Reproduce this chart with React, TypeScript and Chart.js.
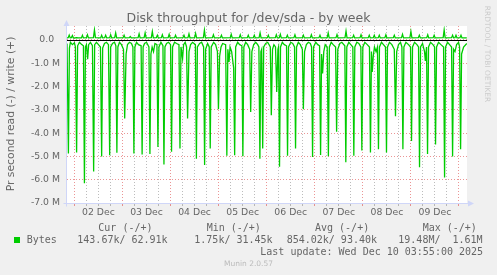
import React, { useEffect, useRef } from 'react';
import { Chart, registerables } from 'chart.js';

Chart.register(...registerables);

// x values: hours since 02 Dec 00:00; y values: millions of bytes per second
const dayLabels = ['02 Dec', '03 Dec', '04 Dec', '05 Dec', '06 Dec', '07 Dec', '08 Dec', '09 Dec'];
const yTickLabels = ['-7.0 M', '-6.0 M', '-5.0 M', '-4.0 M', '-3.0 M', '-2.0 M', '-1.0 M', '0.0  '];

const readPoints: [number, number][] = [
  [-3.7, -0.15], [-3.0, -4.87], [-2.5, -0.35], [-2.0, -0.1], [-1.0, -0.2], [0.0, -0.12], [0.5, -0.3],
  [1.1, -4.83], [1.6, -0.25], [2.5, -0.1], [3.5, -0.18], [4.5, -0.25], [5.0, -6.15], [5.5, -0.3],
  [6.0, -0.2], [6.6, -0.83], [7.1, -0.2], [8.0, -0.1], [9.0, -0.25], [9.6, -5.65], [10.1, -0.2],
  [11.0, -0.1], [12.0, -0.2], [13.0, -0.3], [13.6, -5.0], [14.1, -0.35], [15.0, -0.15], [16.0, -0.1],
  [17.0, -0.2], [17.6, -4.95], [18.1, -0.3], [19.0, -0.15], [20.0, -0.1], [20.7, -0.25], [21.2, -4.84],
  [21.7, -0.3], [22.5, -0.1], [23.5, -0.2], [24.5, -0.4], [25.1, -3.37], [25.8, -0.6], [26.5, -0.2],
  [27.5, -0.1], [28.5, -0.15], [29.2, -0.3], [29.7, -4.87], [30.2, -0.3], [31.0, -0.1], [32.0, -0.2],
  [33.3, -0.25], [33.8, -4.92], [34.3, -0.3], [35.0, -0.15], [36.0, -0.1], [37.2, -0.3], [37.7, -4.9],
  [38.2, -0.6], [38.8, -0.3], [39.5, -0.5], [40.2, -0.15], [41.2, -0.2], [41.7, -4.6], [42.2, -0.3],
  [43.2, -0.1], [44.2, -0.25], [44.7, -5.35], [45.2, -0.3], [46.0, -0.15], [47.0, -0.1], [48.0, -0.2],
  [48.5, -4.8], [49.0, -0.3], [50.0, -0.1], [51.0, -0.15], [52.2, -0.2], [52.7, -4.66], [53.2, -0.3],
  [54.0, -0.8], [54.5, -0.2], [55.3, -0.1], [56.0, -0.3], [56.5, -3.37], [57.2, -0.5], [58.0, -0.2],
  [59.0, -0.1], [60.4, -0.2], [60.9, -5.1], [61.4, -0.3], [62.5, -0.15], [63.5, -0.1], [64.5, -0.3],
  [65.0, -5.37], [65.5, -0.4], [66.5, -0.15], [67.3, -0.3], [67.8, -4.66], [68.3, -0.3], [69.5, -0.1],
  [70.5, -0.2], [71.4, -0.5], [71.9, -2.97], [72.5, -0.7], [73.2, -0.3], [74.0, -0.15], [75.5, -0.2],
  [76.1, -4.97], [76.6, -0.4], [77.2, -0.94], [77.7, -0.3], [78.5, -0.5], [79.5, -1.2], [80.0, -4.95],
  [80.5, -0.3], [81.5, -0.1], [82.5, -0.2], [83.6, -0.25], [84.1, -4.99], [84.6, -0.3], [85.5, -0.1],
  [86.5, -0.2], [87.5, -0.4], [88.0, -3.09], [88.6, -0.5], [89.5, -0.2], [90.5, -0.1], [91.5, -0.2],
  [92.1, -0.3], [92.6, -5.1], [93.1, -0.5], [93.5, -0.4], [94.0, -4.66], [94.5, -0.3], [95.5, -0.15],
  [96.5, -0.1], [97.8, -0.3], [98.3, -3.23], [98.9, -0.4], [99.6, -0.2], [100.4, -0.3], [101.0, -2.23],
  [101.6, -0.4], [101.9, -0.3], [102.4, -5.44], [102.9, -0.3], [103.8, -0.1], [104.8, -0.2], [105.9, -0.25],
  [106.4, -4.97], [106.9, -0.3], [108.0, -0.1], [109.0, -0.15], [109.9, -0.3], [110.4, -4.66], [110.9, -0.3],
  [111.8, -0.1], [112.8, -0.2], [113.8, -0.4], [114.3, -2.97], [114.9, -0.5], [115.8, -0.2], [116.8, -0.1],
  [117.8, -0.15], [118.4, -0.3], [118.9, -5.02], [119.4, -0.3], [120.5, -0.1], [121.5, -0.2], [122.4, -0.25],
  [122.9, -4.94], [123.4, -0.6], [123.9, -1.44], [124.5, -0.5], [125.2, -0.2], [126.2, -0.3], [126.8, -4.99],
  [127.3, -0.3], [128.2, -0.1], [129.2, -0.2], [130.4, -0.3], [130.9, -3.94], [131.5, -0.4], [132.5, -0.15],
  [133.5, -0.1], [135.0, -0.25], [135.5, -5.25], [136.0, -0.3], [137.0, -0.1], [138.0, -0.2], [139.0, -0.3],
  [139.5, -4.97], [140.0, -0.3], [141.0, -0.1], [142.0, -0.15], [143.0, -0.3], [143.5, -4.75], [144.0, -0.3],
  [145.0, -0.1], [146.2, -0.2], [147.3, -0.3], [147.8, -4.83], [148.3, -0.5], [148.7, -1.37], [149.2, -0.7],
  [149.8, -0.3], [150.6, -0.5], [151.3, -0.3], [151.8, -4.69], [152.3, -0.3], [153.3, -0.1], [154.3, -0.2],
  [155.3, -0.3], [155.8, -4.83], [156.3, -0.3], [157.3, -0.1], [158.5, -0.2], [159.7, -0.4], [160.3, -3.27],
  [160.9, -0.5], [161.8, -0.2], [162.8, -0.1], [163.5, -0.3], [164.0, -4.69], [164.5, -0.3], [165.5, -0.1],
  [166.8, -0.2], [167.8, -0.3], [168.3, -4.34], [168.8, -0.3], [169.8, -0.1], [171.0, -0.2], [171.8, -0.3],
  [172.3, -5.47], [172.8, -0.3], [173.8, -0.15], [174.8, -0.5], [175.2, -0.9], [175.8, -0.3], [176.3, -4.9],
  [176.8, -0.3], [177.8, -0.1], [179.0, -0.2], [179.8, -0.3], [180.3, -4.49], [180.8, -0.3], [181.8, -0.1],
  [183.0, -0.2], [184.3, -0.3], [184.8, -5.9], [185.3, -0.3], [186.3, -0.1], [187.3, -0.2], [188.3, -0.3],
  [188.8, -5.0], [189.3, -0.4], [190.0, -0.5], [190.8, -0.2], [191.8, -0.1], [192.3, -0.3], [192.8, -4.69],
  [193.3, -0.6], [194.3, -0.3], [195.9, -0.15],
];

const writePoints: [number, number][] = [
  [-3.7, 0.09], [-3.1, 0.1], [-2.6, 0.21], [-2.1, 0.09], [-1.5, 0.1], [-1.0, 0.19], [-0.5, 0.08],
  [1.0, 0.1], [2.0, 0.09], [3.5, 0.09], [4.0, 0.2], [4.5, 0.09], [6.0, 0.1], [6.5, 0.22], [7.0, 0.09],
  [9.5, 0.1], [10.0, 0.43], [10.5, 0.1], [13.1, 0.09], [13.6, 0.2], [14.1, 0.09], [15.1, 0.1], [15.6, 0.2],
  [16.1, 0.09], [17.6, 0.1], [18.1, 0.22], [18.6, 0.09], [20.1, 0.1], [20.6, 0.3], [21.1, 0.09],
  [24.3, 0.1], [24.8, 0.2], [25.3, 0.09], [27.4, 0.1], [27.9, 0.15], [28.4, 0.09], [31.8, 0.1], [32.3, 0.26],
  [32.8, 0.09], [34.8, 0.1], [35.3, 0.3], [35.8, 0.09], [38.4, 0.1], [38.9, 0.36], [39.4, 0.09],
  [40.9, 0.1], [41.4, 0.2], [41.9, 0.09], [43.4, 0.1], [43.9, 0.22], [44.4, 0.09], [46.8, 0.1], [47.3, 0.24],
  [47.8, 0.09], [50.0, 0.1], [50.5, 0.2], [51.0, 0.09], [54.2, 0.1], [54.7, 0.2], [55.2, 0.09],
  [56.7, 0.1], [57.2, 0.26], [57.7, 0.09], [60.0, 0.1], [60.5, 0.28], [61.0, 0.09], [64.4, 0.1], [64.9, 0.42],
  [65.4, 0.09], [68.9, 0.1], [69.4, 0.22], [69.9, 0.09], [72.9, 0.1], [73.4, 0.2], [73.9, 0.09],
  [77.8, 0.1], [78.3, 0.24], [78.8, 0.09], [82.3, 0.1], [82.8, 0.22], [83.3, 0.09], [86.3, 0.1], [86.8, 0.2],
  [87.3, 0.09], [89.3, 0.1], [89.8, 0.2], [90.3, 0.09], [92.2, 0.1], [92.7, 0.3], [93.2, 0.09],
  [96.3, 0.1], [96.8, 0.2], [97.3, 0.09], [100.3, 0.1], [100.8, 0.22], [101.3, 0.09], [102.3, 0.1],
  [102.8, 0.24], [103.3, 0.09], [105.8, 0.1], [106.3, 0.2], [106.8, 0.09], [109.6, 0.1], [110.1, 0.22],
  [110.6, 0.09], [113.8, 0.1], [114.3, 0.2], [114.8, 0.09], [117.8, 0.1], [118.3, 0.22], [118.8, 0.09],
  [122.1, 0.1], [122.6, 0.2], [123.1, 0.09], [126.2, 0.1], [126.7, 0.3], [127.2, 0.09], [130.6, 0.1],
  [131.1, 0.23], [131.6, 0.09], [135.1, 0.1], [135.6, 0.38], [136.1, 0.09], [138.9, 0.1], [139.4, 0.2],
  [139.9, 0.09], [142.6, 0.1], [143.1, 0.22], [143.6, 0.09], [146.7, 0.1], [147.2, 0.2], [147.7, 0.09],
  [149.2, 0.1], [149.7, 0.2], [150.2, 0.09], [151.7, 0.1], [152.2, 0.2], [152.7, 0.09], [155.0, 0.1],
  [155.5, 0.22], [156.0, 0.09], [159.2, 0.1], [159.7, 0.2], [160.2, 0.09], [163.3, 0.1], [163.8, 0.24],
  [164.3, 0.09], [167.5, 0.1], [168.0, 0.36], [168.5, 0.09], [171.7, 0.1], [172.2, 0.2], [172.7, 0.09],
  [175.9, 0.1], [176.4, 0.22], [176.9, 0.09], [179.1, 0.1], [179.6, 0.2], [180.1, 0.09], [184.1, 0.1],
  [184.6, 0.43], [185.1, 0.09], [188.3, 0.1], [188.8, 0.2], [189.3, 0.09], [190.0, 0.1], [190.5, 0.2],
  [191.0, 0.09], [192.5, 0.1], [193.0, 0.2], [193.5, 0.09], [195.9, 0.09],
];

const legendHeaders = ['Cur (-/+)', 'Min (-/+)', 'Avg (-/+)', 'Max (-/+)'];
const legendValues = ['143.67k/ 62.91k', '1.75k/ 31.45k', '854.02k/ 93.40k', '19.48M/  1.61M'];
const headerLefts = [98.3, 206.7, 315, 422.7];
const valueLefts = [77.3, 194.3, 286.7, 398.3];

const GREEN = '#00cc00';
const FONT_COLOR = '#666666';
const MAJOR = 'rgba(222, 79, 79, 0.6)';
const MINOR = 'rgba(143, 143, 143, 0.6)';

const bgPlugin = {
  id: 'canvasBg',
  beforeDraw(chart: any) {
    const { ctx, chartArea: a } = chart;
    ctx.save();
    ctx.fillStyle = '#ffffff';
    ctx.fillRect(a.left, a.top, a.right - a.left, a.bottom - a.top);
    ctx.restore();
  },
};

const decorPlugin = {
  id: 'decor',
  afterDatasetsDraw(chart: any) {
    const { ctx, chartArea: a, scales } = chart;
    const y = scales.y;
    ctx.save();
    const y0 = Math.round(y.getPixelForValue(0)) + 0.5;
    ctx.strokeStyle = '#000000';
    ctx.lineWidth = 1;
    ctx.beginPath();
    ctx.moveTo(a.left, y0);
    ctx.lineTo(a.right, y0);
    ctx.stroke();

    ctx.strokeStyle = '#CFD6F8';
    ctx.fillStyle = '#CFD6F8';
    const bx = Math.round(a.left) - 0.5;
    const by = Math.round(a.bottom) + 0.5;
    ctx.beginPath();
    ctx.moveTo(bx, by + 3);
    ctx.lineTo(bx, a.top - 1);
    ctx.moveTo(bx - 3, by);
    ctx.lineTo(a.right + 2, by);
    ctx.stroke();
    ctx.beginPath();
    ctx.moveTo(bx - 3, a.top);
    ctx.lineTo(bx + 3, a.top);
    ctx.lineTo(bx, a.top - 6);
    ctx.closePath();
    ctx.fill();
    ctx.beginPath();
    ctx.moveTo(a.right + 1, by - 3);
    ctx.lineTo(a.right + 1, by + 3);
    ctx.lineTo(a.right + 7, by);
    ctx.closePath();
    ctx.fill();
    ctx.restore();
  },
};

const txt = (size: number, family: string, color: string, lh?: number): React.CSSProperties => ({
  position: 'absolute',
  whiteSpace: 'pre',
  fontFamily: family,
  fontSize: size,
  lineHeight: `${lh ?? size}px`,
  color,
  margin: 0,
});

export default function App() {
  const ref = useRef<HTMLCanvasElement>(null);

  useEffect(() => {
    if (!ref.current) return;
    const chart = new Chart(ref.current, {
      type: 'line',
      data: {
        datasets: [
          {
            label: 'read',
            data: readPoints.map(([x, y]) => ({ x, y })),
            borderColor: GREEN,
            borderWidth: 1.3,
            pointRadius: 0,
            fill: false,
            tension: 0,
          },
          {
            label: 'write',
            data: writePoints.map(([x, y]) => ({ x, y })),
            borderColor: GREEN,
            borderWidth: 1.3,
            pointRadius: 0,
            fill: false,
            tension: 0,
          },
        ],
      },
      options: {
        animation: false,
        responsive: false,
        events: [],
        layout: { padding: { left: 0, right: 30, top: 26, bottom: 0 } },
        plugins: {
          legend: { display: false },
          title: { display: false },
          tooltip: { enabled: false },
        },
        scales: {
          x: {
            type: 'linear',
            min: -3.7,
            max: 196,
            afterFit: (s: any) => {
              s.height = 72;
            },
            ticks: {
              stepSize: 6,
              autoSkip: false,
              maxRotation: 0,
              minRotation: 0,
              includeBounds: false,
              padding: 1,
              color: FONT_COLOR,
              font: { family: 'DejaVu Sans', size: 9.3 },
              callback: (v: any) => {
                const n = Math.round(Number(v));
                if (((n % 24) + 24) % 24 !== 12) return '';
                return dayLabels[(n - 12) / 24] ?? '';
              },
            },
            grid: {
              color: (c: any) => (Math.round(c.tick.value) % 24 === 0 ? MAJOR : MINOR),
              tickColor: (c: any) => (Math.round(c.tick.value) % 24 === 0 ? MAJOR : MINOR),
              drawTicks: true,
              tickLength: 3,
              lineWidth: 1,
            },
            border: { display: false, dash: [1, 2] },
          },
          y: {
            type: 'linear',
            min: -7,
            max: 0.6,
            afterFit: (s: any) => {
              s.width = 67;
            },
            ticks: {
              stepSize: 0.5,
              includeBounds: false,
              padding: 7,
              color: FONT_COLOR,
              font: { family: 'DejaVu Sans', size: 9.3 },
              callback: (v: any) => {
                const n = Number(v);
                if (Math.abs(n - Math.round(n)) > 1e-6) return '';
                return yTickLabels[Math.round(n) + 7] ?? '';
              },
            },
            grid: {
              color: (c: any) =>
                Math.abs(c.tick.value - Math.round(c.tick.value)) < 1e-6 ? MAJOR : MINOR,
              drawTicks: false,
              lineWidth: 1,
            },
            border: { display: false, dash: [1, 2] },
          },
        },
      } as any,
      plugins: [bgPlugin, decorPlugin],
    });
    return () => chart.destroy();
  }, []);

  return (
    <div
      style={{
        position: 'fixed',
        left: 0,
        top: 0,
        width: 497,
        height: 275,
        background: '#f0f0f0',
        overflow: 'hidden',
      }}
    >
      <canvas ref={ref} width={497} height={275} style={{ position: 'absolute', left: 0, top: 0 }} />
      <div style={{ ...txt(12.5, 'DejaVu Sans', FONT_COLOR), left: 0, width: 497, top: 12.1, textAlign: 'center' }}>
        Disk throughput for /dev/sda - by week
      </div>
      <div
        style={{
          ...txt(10.8, 'DejaVu Sans', FONT_COLOR, 12),
          left: 11 - 110,
          top: 114 - 6,
          width: 220,
          height: 12,
          textAlign: 'center',
          transform: 'rotate(-90deg)',
        }}
      >
        Pr second read (-) / write (+)
      </div>
      <div
        style={{
          ...txt(7.5, 'DejaVu Sans', '#cccccc', 8),
          left: 487 - 60,
          top: 54 - 4,
          width: 120,
          height: 8,
          textAlign: 'center',
          transform: 'rotate(90deg)',
        }}
      >
        RRDTOOL / TOBI OETIKER
      </div>
      {legendHeaders.map((h, i) => (
        <div key={h} style={{ ...txt(10, 'DejaVu Sans Mono', FONT_COLOR), left: headerLefts[i], top: 222.5 }}>
          {h}
        </div>
      ))}
      <div style={{ position: 'absolute', left: 14, top: 236.7, width: 6, height: 6, background: GREEN }} />
      <div style={{ ...txt(10, 'DejaVu Sans Mono', FONT_COLOR), left: 26.7, top: 234.8 }}>Bytes</div>
      {legendValues.map((v, i) => (
        <div key={v} style={{ ...txt(10, 'DejaVu Sans Mono', FONT_COLOR), left: valueLefts[i], top: 234.8 }}>
          {v}
        </div>
      ))}
      <div style={{ ...txt(10, 'DejaVu Sans Mono', FONT_COLOR), left: 260.3, top: 246.8 }}>
        Last update: Wed Dec 10 03:55:00 2025
      </div>
      <div style={{ ...txt(7.5, 'DejaVu Sans', '#bbbbbb'), left: 0, width: 497, top: 260.1, textAlign: 'center' }}>
        Munin 2.0.57
      </div>
    </div>
  );
}
